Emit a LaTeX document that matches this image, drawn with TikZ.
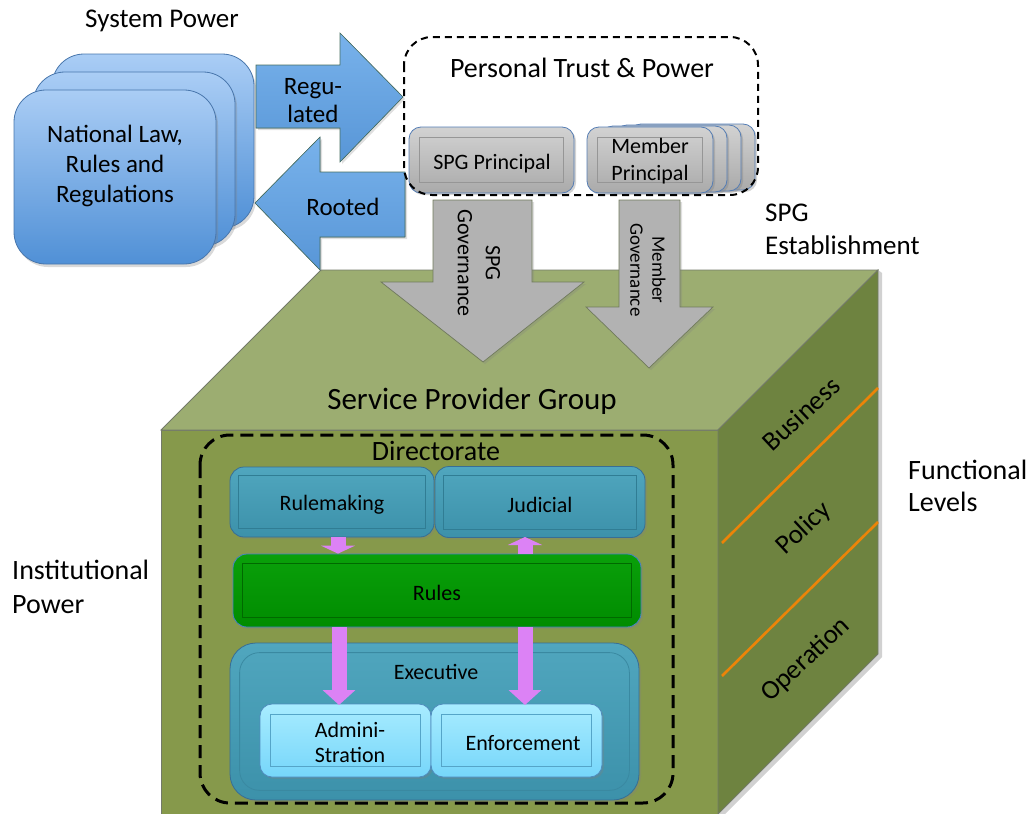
\documentclass[tikz,border=0pt]{standalone}
\usepackage{fontspec}
\setmainfont{Carlito}
\usetikzlibrary{shadows,arrows.meta,calc}

\definecolor{cubetop}{RGB}{156,173,113}
\definecolor{cubefront}{RGB}{134,153,75}
\definecolor{cuberight}{RGB}{110,131,64}
\definecolor{cubeedge}{RGB}{115,122,105}
\definecolor{lawtop}{RGB}{170,205,245}
\definecolor{lawbot}{RGB}{80,144,214}
\definecolor{lawedge}{RGB}{72,118,172}
\definecolor{bluetop}{RGB}{120,178,235}
\definecolor{bluebot}{RGB}{88,150,215}
\definecolor{blueedge}{RGB}{70,110,95}
\definecolor{greytop}{RGB}{210,210,210}
\definecolor{greybot}{RGB}{170,170,170}
\definecolor{greyedge}{RGB}{85,125,180}
\definecolor{greyinner}{RGB}{150,150,150}
\definecolor{arrowgrey}{RGB}{178,178,178}
\definecolor{arrowedge}{RGB}{112,122,92}
\definecolor{tealtop}{RGB}{80,166,190}
\definecolor{tealbot}{RGB}{60,145,170}
\definecolor{tealedge}{RGB}{55,110,150}
\definecolor{tealinner}{RGB}{48,125,148}
\definecolor{rulestop}{RGB}{10,160,10}
\definecolor{rulesbot}{RGB}{0,140,0}
\definecolor{rulesedge}{RGB}{70,130,200}
\definecolor{rulesinner}{RGB}{0,105,0}
\definecolor{cyantop}{RGB}{168,236,255}
\definecolor{cyanbot}{RGB}{118,214,250}
\definecolor{cyanedge}{RGB}{80,140,190}
\definecolor{cyaninner}{RGB}{85,165,200}
\definecolor{pinkfill}{RGB}{220,130,245}
\definecolor{levelline}{RGB}{236,132,8}

\newcommand\fsz[2]{\fontsize{#1}{#2}\selectfont}
% inner frame drawn inside a named box
\newcommand\innerframe[3]{%
  \draw[#3, line width=0.8pt] ([shift={(#2,#2)}]#1.north west) rectangle ([shift={(-#2,-#2)}]#1.south east);}

\tikzset{
  lawbox/.style={rounded corners=32pt, draw=lawedge, line width=0.8pt,
    top color=lawtop, bottom color=lawbot, minimum width=202pt, minimum height=174pt,
    drop shadow={opacity=0.3, shadow xshift=2pt, shadow yshift=-3pt}},
  bluearrow/.style={draw=blueedge, line width=0.6pt, top color=bluetop, bottom color=bluebot,
    drop shadow={opacity=0.25, shadow xshift=2pt, shadow yshift=-2pt}},
  greybox/.style={rounded corners=12pt, draw=greyedge, line width=0.8pt,
    top color=greytop, bottom color=greybot, minimum height=66pt,
    drop shadow={opacity=0.35, shadow xshift=2pt, shadow yshift=-2pt}},
  greyarrow/.style={draw=arrowedge, line width=0.7pt, fill=arrowgrey,
    drop shadow={opacity=0.25, shadow xshift=2pt, shadow yshift=-2pt}},
  tealbox/.style={rounded corners=14pt, draw=tealedge, line width=0.8pt,
    top color=tealtop, bottom color=tealbot,
    drop shadow={opacity=0.3, shadow xshift=2pt, shadow yshift=-2pt}},
  rulesbox/.style={rounded corners=14pt, draw=rulesedge, line width=0.8pt,
    top color=rulestop, bottom color=rulesbot,
    drop shadow={opacity=0.3, shadow xshift=2pt, shadow yshift=-2pt}},
  cyanbox/.style={rounded corners=12pt, draw=cyanedge, line width=0.8pt,
    top color=cyantop, bottom color=cyanbot,
    drop shadow={opacity=0.3, shadow xshift=2pt, shadow yshift=-2pt}},
  dashframe/.style={draw=black, line width=3pt, dash pattern=on 13pt off 7pt},
  trustframe/.style={draw=black, line width=2pt, dash pattern=on 7pt off 5pt},
  pinkarrow/.style={draw=pinkfill, line width=15pt,
    -{Triangle[length=15pt, width=32pt]}},
  label/.style={inner sep=0pt, text=black},
  level/.style={label, rotate=43, font=\fsz{27}{30}},
}

\begin{document}
\begin{tikzpicture}[x=1pt, y=-1pt]
\useasboundingbox (0,0) rectangle (1031,814);

% ---------- the organisation cube ----------
\coordinate (FTL) at (161,430);
\coordinate (FTR) at (718,430);
\coordinate (BTL) at (321,270);
\coordinate (BTR) at (878,270);
\coordinate (BBR) at (878,654);
\coordinate (FBR) at (718,814);
\coordinate (FBL) at (161,814);

\fill[black, opacity=0.18] ([shift={(4,3)}]BTR) -- ([shift={(4,3)}]BBR) -- ([shift={(4,3)}]FBR) -- (FBR) -- (BBR) -- (BTR) -- cycle;
\filldraw[fill=cubefront, draw=cubeedge, line width=0.8pt] (FTL) -- (FTR) -- (FBR) -- (FBL) -- cycle;
\filldraw[fill=cubetop, draw=cubeedge, line width=0.8pt] (FTL) -- (BTL) -- (BTR) -- (FTR) -- cycle;
\filldraw[fill=cuberight, draw=cubeedge, line width=0.8pt] (FTR) -- (BTR) -- (BBR) -- (FBR) -- cycle;

% functional level dividers on the side face
\coordinate (L1a) at (722,543);
\coordinate (L1b) at (878,388);
\coordinate (L2a) at (722,676);
\coordinate (L2b) at (878,522);
\draw[levelline, line width=2.6pt] (L1a) -- (L1b);
\draw[levelline, line width=2.6pt] (L2a) -- (L2b);

\node[level] (business) at (801,414) {Business};
\node[level] (policy) at (804,529) {Policy};
\node[level] (operation) at (806,660) {Operation};

\node[label, font=\fsz{31}{36}] (spg) at (472,401) {Service Provider Group};

% ---------- directorate ----------
\draw[dashframe, rounded corners=30pt] (200,435) rectangle (673,803);
\node[label, font=\fsz{28}{32}] (directorate) at (436,451) {Directorate};

\node[tealbox, minimum width=204pt, minimum height=70pt] (rulemaking) at (332,502) {};
\innerframe{rulemaking}{9}{tealinner}
\node[label, font=\fsz{22}{26}] at (332,505) {Rulemaking};

\node[tealbox, minimum width=210pt, minimum height=71pt] (judicial) at (540,502) {};
\innerframe{judicial}{9}{tealinner}
\node[label, font=\fsz{22}{26}] at (540,505) {Judicial};

\node[rulesbox, minimum width=408pt, minimum height=73pt] (rules) at (437,590.5) {};
\innerframe{rules}{10}{rulesinner}
\node[label, font=\fsz{22}{26}] at (437,593) {Rules};

\node[tealbox, rounded corners=26pt, minimum width=409pt, minimum height=157pt] (executive) at (434.5,721.5) {};
\draw[tealinner!70!tealtop, line width=0.8pt, rounded corners=20pt]
  ([shift={(10,10)}]executive.north west) rectangle ([shift={(-10,-10)}]executive.south east);
\node[label, font=\fsz{22}{26}] at (436,672) {Executive};

\node[cyanbox, minimum width=171pt, minimum height=73pt] (admin) at (345.5,740.5) {};
\innerframe{admin}{11}{cyaninner}
\node[label, font=\fsz{22}{25}, align=center] at (350,742) {Admini-\\Stration};

\node[cyanbox, minimum width=171pt, minimum height=73pt] (enforce) at (516.5,740.5) {};
\innerframe{enforce}{11}{cyaninner}
\node[label, font=\fsz{22}{26}] at (523,743) {Enforcement};

% flows between the directorate bodies
\draw[pinkarrow, -{Triangle[length=8pt, width=34pt]}] ([xshift=6pt]rulemaking.south) -- ([xshift=6pt]rulemaking.south |- rules.north);
\draw[pinkarrow, -{Triangle[length=8pt, width=34pt]}] (525,554) -- (525,537);
\draw[pinkarrow] (rules.south -| 339,0) -- (339,705);
\draw[pinkarrow] (rules.south -| 525,0) -- (525,705);

% ---------- system power ----------
\node[label, font=\fsz{27}{31}] (syspower) at (162,21) {System Power};
\node[lawbox] (law3) at (153,141) {};
\node[lawbox] (law2) at (134,159) {};
\node[lawbox] (law1) at (115,177) {};
\node[label, font=\fsz{25}{30}, align=center] (lawtext) at (115,166) {National Law,\\Rules and\\Regulations};

% regulated / rooted block arrows
\filldraw[bluearrow] (256,65) -- (340,65) -- (340,33) -- (403,97) -- (340,162) -- (340,128) -- (256,128) -- cycle;
\node[label, font=\fsz{25}{28}, align=center] (regulated) at (313,101) {Regu-\\lated};
\filldraw[bluearrow] (405,172) -- (320,172) -- (320,137) -- (255,203) -- (320,270) -- (320,237) -- (405,237) -- cycle;
\node[label, font=\fsz{25}{28}] (rooted) at (343,207) {Rooted};

% ---------- personal trust & power ----------
\node[greybox, minimum width=165pt] (spgprincipal) at (491.5,160) {};
\innerframe{spgprincipal}{11}{greyinner}
\node[label, font=\fsz{22}{26}] at (492,164) {SPG Principal};

\node[greybox, minimum width=126pt] (member4) at (692,157) {};
\node[greybox, minimum width=126pt] (member3) at (678,158) {};
\node[greybox, minimum width=126pt] (member2) at (664,159) {};
\node[greybox, minimum width=126pt] (member1) at (650,160) {};
\innerframe{member1}{11}{greyinner}
\node[label, font=\fsz{22}{27}, align=center] at (650,161) {Member\\Principal};

\draw[trustframe, rounded corners=28pt] (404,37) rectangle (758,195);
\node[label, font=\fsz{28}{32}] (personal) at (582,68) {Personal Trust \& Power};

% governance block arrows into the group
\filldraw[greyarrow] (433,200) -- (532,200) -- (532,282) -- (584,282) -- (483,362) -- (381,282) -- (433,282) -- cycle;
\node[label, rotate=-90, font=\fsz{22}{28}, align=center] (spggov) at (479,263) {SPG\\Governance};
\filldraw[greyarrow] (619,200) -- (680,200) -- (680,307) -- (713,307) -- (649,368) -- (586,307) -- (619,307) -- cycle;
\node[label, rotate=-90, font=\fsz{19}{22}, align=center] (membergov) at (648,270) {Member\\Governance};

% ---------- side captions ----------
\node[label, font=\fsz{27}{33}, align=left, anchor=west] (establish) at (765,229) {SPG\\Establishment};
\node[label, font=\fsz{28}{32}, align=left, anchor=west] (functional) at (908,486) {Functional\\Levels};
\node[label, font=\fsz{28}{34}, align=left, anchor=west] (institutional) at (12,587) {Institutional\\Power};
\end{tikzpicture}
\end{document}
